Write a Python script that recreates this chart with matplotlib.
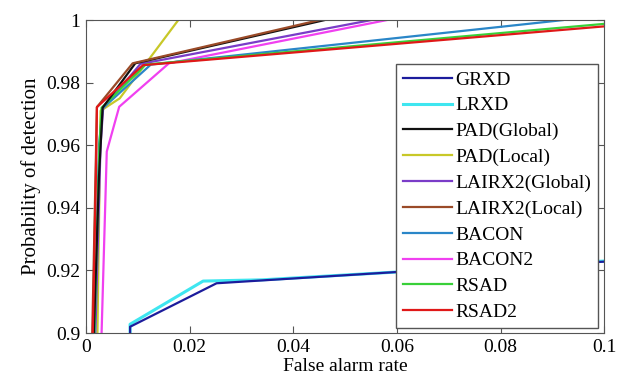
import matplotlib
matplotlib.use("Agg")
import matplotlib.pyplot as plt

# ROC curves (zoomed)
labels = ["GRXD", "LRXD", "PAD(Global)", "PAD(Local)", "LAIRX2(Global)",
          "LAIRX2(Local)", "BACON", "BACON2", "RSAD", "RSAD2"]

fa_grxd = [0.0085, 0.0085, 0.0252, 0.06, 0.1]
pd_grxd = [0.9, 0.902, 0.9159, 0.9195, 0.9228]
fa_lrxd = [0.0085, 0.0085, 0.0226, 0.034, 0.06, 0.1]
pd_lrxd = [0.9, 0.9028, 0.9166, 0.917, 0.9195, 0.923]
fa_pad_g = [0.0015, 0.0025, 0.0032, 0.0095, 0.046]
pd_pad_g = [0.9, 0.95, 0.972, 0.9862, 1.0]
fa_pad_l = [0.0022, 0.0028, 0.0065, 0.0178]
pd_pad_l = [0.9, 0.971, 0.975, 1.0]
fa_lairx_g = [0.0018, 0.0028, 0.0033, 0.0105, 0.055]
pd_lairx_g = [0.9, 0.96, 0.9718, 0.986, 1.0]
fa_lairx_l = [0.0012, 0.0021, 0.009, 0.045]
pd_lairx_l = [0.9, 0.9722, 0.9862, 1.0]
fa_bacon = [0.0016, 0.0025, 0.0032, 0.0125, 0.092]
pd_bacon = [0.9, 0.96, 0.9718, 0.9858, 1.0]
fa_bacon2 = [0.003, 0.004, 0.0064, 0.016, 0.058]
pd_bacon2 = [0.9, 0.958, 0.9723, 0.9862, 1.0]
fa_rsad = [0.0016, 0.0026, 0.003, 0.0115, 0.1]
pd_rsad = [0.9, 0.96, 0.972, 0.9858, 0.9988]
fa_rsad2 = [0.0013, 0.0019, 0.0021, 0.011, 0.1]
pd_rsad2 = [0.9, 0.95, 0.9722, 0.9856, 0.998]

fa_all = [fa_grxd, fa_lrxd, fa_pad_g, fa_pad_l, fa_lairx_g,
          fa_lairx_l, fa_bacon, fa_bacon2, fa_rsad, fa_rsad2]
pd_all = [pd_grxd, pd_lrxd, pd_pad_g, pd_pad_l, pd_lairx_g,
          pd_lairx_l, pd_bacon, pd_bacon2, pd_rsad, pd_rsad2]

colors = ["#1c1c9c", "#3fe6f0", "#111111", "#c8c828", "#7a3cc8",
          "#9a4a28", "#2a86c8", "#f040f0", "#38d038", "#e01818"]
# draw order so the overlaps look like the original
order = [1, 0, 3, 7, 4, 6, 8, 2, 5, 9]

plt.rcParams['font.family'] = ['Liberation Serif', 'DejaVu Serif']

fig = plt.figure(figsize=(6.19, 3.87), dpi=100)
ax = fig.add_axes([0.139, 0.1395, 0.837, 0.8085])

lines = {}
for i in order:
    lw = 2.2 if i == 1 else 1.6
    ln, = ax.plot(fa_all[i], pd_all[i], color=colors[i], lw=lw, label=labels[i])
    lines[i] = ln

ax.set_xlim(0, 0.1)
ax.set_ylim(0.9, 1.0)
ax.set_xticks([0, 0.02, 0.04, 0.06, 0.08, 0.1])
ax.set_xticklabels(["0", "0.02", "0.04", "0.06", "0.08", "0.1"])
ax.set_yticks([0.9, 0.92, 0.94, 0.96, 0.98, 1.0])
ax.set_yticklabels(["0.9", "0.92", "0.94", "0.96", "0.98", "1"])
ax.tick_params(direction="in", top=True, right=True, labelsize=14,
               length=5, color="#555555", pad=4)
for s in ax.spines.values():
    s.set_color("#555555")

ax.set_xlabel("False alarm rate", fontsize=14, labelpad=2)
ax.set_ylabel("Probability of detection", fontsize=15, labelpad=4)

leg = ax.legend([lines[i] for i in range(10)], labels, loc="upper right",
                bbox_to_anchor=(0.988, 0.859), borderaxespad=0,
                fontsize=14, labelspacing=0.42,
                handlelength=2.55, handletextpad=0.15, borderpad=0.35,
                fancybox=False, framealpha=1, edgecolor="#555555")
leg.get_frame().set_linewidth(1.0)

fig.savefig("out.png", dpi=100)
